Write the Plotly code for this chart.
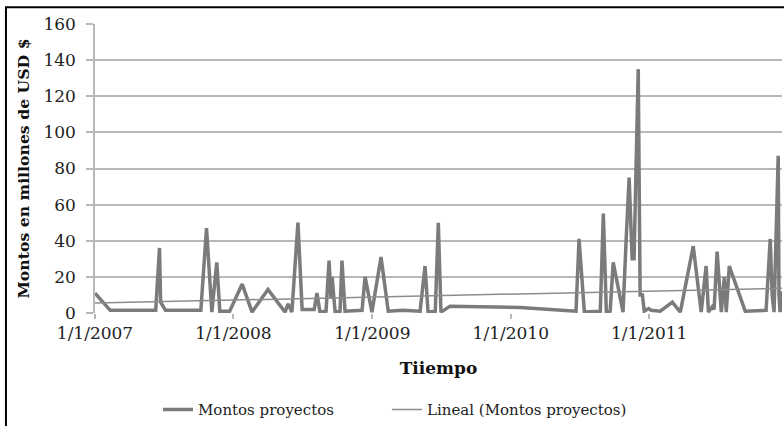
import pandas as pd
import plotly.graph_objects as go

# Data (dates of projects and amounts in million USD)
fechas = [
    "2007-01-01", "2007-02-10", "2007-06-10", "2007-06-20", "2007-06-23", "2007-07-06",
    "2007-10-07", "2007-10-22", "2007-11-05", "2007-11-18", "2007-11-26", "2007-12-22",
    "2008-01-24", "2008-02-19", "2008-04-01", "2008-05-16", "2008-05-24", "2008-06-03",
    "2008-06-19", "2008-06-30", "2008-08-01", "2008-08-08", "2008-08-16", "2008-09-01",
    "2008-09-09", "2008-09-14", "2008-09-17", "2008-09-25", "2008-10-08", "2008-10-13",
    "2008-10-21", "2008-12-05", "2008-12-13", "2008-12-31", "2009-01-24", "2009-02-12",
    "2009-03-23", "2009-05-07", "2009-05-20", "2009-05-28", "2009-06-16", "2009-06-24",
    "2009-07-01", "2009-07-25", "2010-01-26", "2010-05-30", "2010-06-22", "2010-06-30",
    "2010-07-14", "2010-08-25", "2010-09-02", "2010-09-10", "2010-09-20", "2010-09-28",
    "2010-10-24", "2010-11-01", "2010-11-09", "2010-11-17", "2010-11-22", "2010-12-03",
    "2010-12-08", "2010-12-14", "2010-12-19", "2010-12-30", "2011-01-06", "2011-01-30",
    "2011-03-03", "2011-03-24", "2011-04-27", "2011-05-18", "2011-05-31", "2011-06-06",
    "2011-06-16", "2011-06-21", "2011-06-29", "2011-07-10", "2011-07-18", "2011-07-23",
    "2011-07-31", "2011-09-11", "2011-11-05", "2011-11-16", "2011-11-21", "2011-11-26",
    "2011-12-07", "2011-12-09", "2011-12-12", "2011-12-15", "2011-12-17",
]
montos = [
    11, 1.5, 1.5, 36, 6, 1.5,
    1.5, 47, 0.5, 28, 1, 1,
    16, 0.5, 13, 0.5, 5, 0.5,
    50, 2, 2, 11, 0.5, 1,
    29, 8, 20, 0.5, 1, 29,
    1, 1.5, 20, 0.5, 31, 1,
    1.5, 1, 26, 0.5, 1, 50,
    0.5, 3.8, 3, 1.5, 1, 41,
    0.5, 1, 55, 0.5, 1, 28,
    0.5, 40, 75, 30, 30, 135,
    10, 10, 1, 2.5, 1.5, 1,
    6, 0.5, 37, 0.5, 26, 0.5,
    3.5, 2, 34, 0.5, 20, 0.5,
    26, 1, 1.5, 41, 10, 0.5,
    87, 10, 0.5, 12, 5,
]

# Linear trend line values read at the start and end of the series
tendencia_valores = [5.5, 13.7]

y_ticks = [0, 20, 40, 60, 80, 100, 120, 140, 160]

serie = "Montos proyectos"
tendencia = "Lineal (Montos proyectos)"

dt = pd.to_datetime(fechas)
x_trend = [dt[0], dt[-1]]

FONT = "DejaVu Serif"
GRID = "#b8b8b8"

fig = go.Figure()
fig.add_trace(go.Scatter(
    x=dt, y=montos, mode="lines", name=serie, legend="legend",
    line=dict(color="#7b7b7b", width=3.5),
))
fig.add_trace(go.Scatter(
    x=x_trend, y=tendencia_valores, mode="lines", name=tendencia, legend="legend2",
    line=dict(color="#8c8c8c", width=1.5),
))

leg_common = dict(
    orientation="h", xanchor="left", y=-0.335, yanchor="middle",
    font=dict(family=FONT, size=15, color="#222222"),
    bgcolor="rgba(0,0,0,0)",
)

fig.update_layout(
    width=784, height=426,
    margin=dict(l=95, r=2, t=24, b=113, autoexpand=False),
    paper_bgcolor="white", plot_bgcolor="white",
    font=dict(family=FONT, color="#222222"),
    showlegend=True,
    legend=dict(x=0.0917, **leg_common),
    legend2=dict(x=0.425, **leg_common),
    xaxis=dict(
        type="date", range=[fechas[0], fechas[-1]],
        tick0="2007-01-01", dtick="M12", tickformat="%-m/%-d/%Y",
        ticks="outside", ticklen=5, tickcolor=GRID, tickwidth=1.5,
        showgrid=False, showline=False, zeroline=False, automargin=False,
        tickfont=dict(family=FONT, size=17, color="#222222"),
        title=dict(text="<b>Tiiempo</b>", font=dict(family=FONT, size=17, color="#111111"), standoff=19),
    ),
    yaxis=dict(
        range=[0, 160], tickvals=y_ticks,
        ticks="outside", ticklen=7, tickcolor=GRID, tickwidth=1.5,
        showgrid=True, gridcolor=GRID, gridwidth=1.5,
        showline=True, linecolor=GRID, linewidth=1.5,
        zeroline=False, automargin=False,
        tickfont=dict(family=FONT, size=17, color="#222222"),
        ticklabelstandoff=7,
        title=dict(text="<b>Montos en millones de USD $</b>", font=dict(family=FONT, size=15.7, color="#111111"), standoff=10),
    ),
    shapes=[dict(
        type="rect", xref="paper", yref="paper",
        x0=-0.1296, x1=1.02, y0=-0.45, y1=1.058,
        line=dict(color="black", width=2), fillcolor="rgba(0,0,0,0)", layer="below",
    )],
)

fig.write_html(
    "out.html",
    config={"displayModeBar": False},
    post_script="document.body.style.margin='0';document.body.style.overflow='hidden';",
)
